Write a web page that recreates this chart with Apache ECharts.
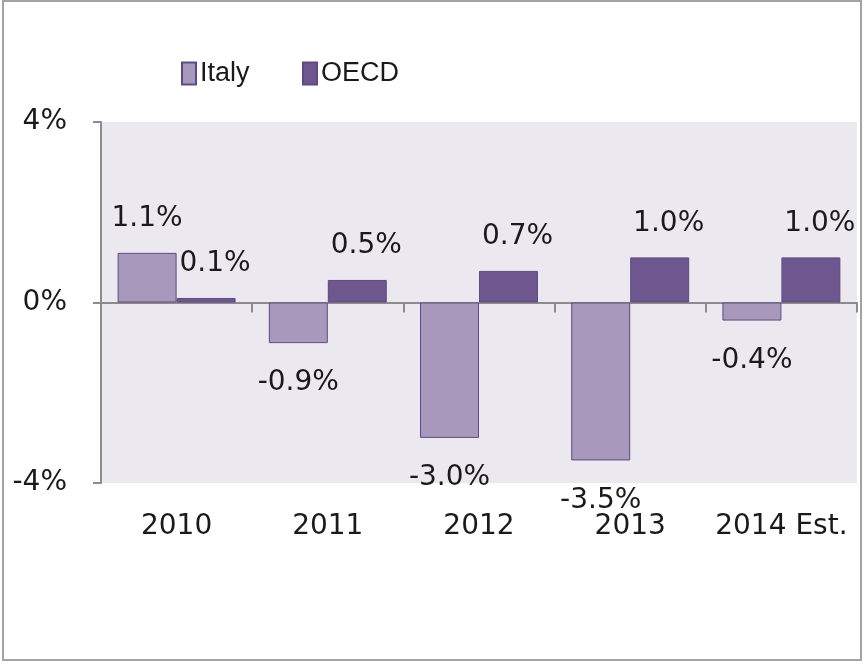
<!DOCTYPE html>
<html>
<head>
<meta charset="utf-8">
<script src="https://cdn.jsdelivr.net/npm/echarts@6/dist/echarts.min.js"></script>
<style>
  html, body { margin: 0; padding: 0; background: #fff; }
  #main { width: 864px; height: 664px; }
</style>
</head>
<body>
<div id="main"></div>
<script>
// data
var years = ['2010', '2011', '2012', '2013', '2014 Est.'];
var italy = [1.1, -0.9, -3.0, -3.5, -0.4];
var oecd = [0.1, 0.5, 0.7, 1.0, 1.0];
var yTicks = [-4, 0, 4];

var myChart = echarts.init(document.getElementById('main'));

var fontName = 'DejaVu Sans';
var legendFont = 'Liberation Sans';
var axisGray = '#8c8c8c';

function barData(values) {
  return values.map(function (v) {
    return {
      value: v,
      label: v < 0 ? { position: 'bottom', distance: 26 } : { position: 'top', distance: 20 }
    };
  });
}

function makeSeries(name, values, color, labelShift) {
  return {
    name: name,
    type: 'bar',
    xAxisIndex: 0,
    barGap: 0,
    barCategoryGap: '22%',
    itemStyle: { color: color, borderColor: '#5e4a80', borderWidth: 1 },
    label: {
      show: true,
      color: '#1a1a1a',
      fontFamily: fontName,
      fontSize: 28,
      offset: [labelShift, 0],
      formatter: function (p) { return p.value.toFixed(1) + '%'; }
    },
    data: barData(values)
  };
}

function makeLegend(name, left) {
  return {
    top: 55,
    left: left,
    itemWidth: 14,
    itemHeight: 22,
    itemGap: 0,
    icon: 'rect',
    textStyle: { fontFamily: legendFont, fontSize: 27, color: '#1a1a1a', padding: [0, 0, 0, -1] },
    data: [name]
  };
}

var option = {
  backgroundColor: '#fff',
  animation: false,
  graphic: [{
    type: 'rect',
    shape: { x: 3, y: 1, width: 858, height: 659 },
    style: { fill: 'none', stroke: '#a3a3a3', lineWidth: 2 },
    z: 100
  }],
  legend: [makeLegend('Italy', 176), makeLegend('OECD', 297)],
  grid: {
    left: 101, right: 7, top: 122, bottom: 181,
    show: true,
    backgroundColor: '#ebe9ef',
    borderWidth: 0
  },
  xAxis: [
    {
      type: 'category',
      data: years,
      axisLine: { onZero: true, lineStyle: { color: axisGray, width: 2 } },
      axisTick: { show: true, length: 10, lineStyle: { color: axisGray, width: 2 } },
      axisLabel: { show: false },
      splitLine: { show: false }
    },
    {
      type: 'category',
      data: years,
      position: 'bottom',
      axisLine: { show: false, onZero: false },
      axisTick: { show: false },
      axisLabel: { interval: 0, fontFamily: fontName, fontSize: 28, color: '#1a1a1a', margin: 30 },
      splitLine: { show: false }
    }
  ],
  yAxis: {
    type: 'value',
    min: yTicks[0],
    max: yTicks[yTicks.length - 1],
    interval: 4,
    axisLine: { show: true, lineStyle: { color: axisGray, width: 2 } },
    axisTick: { show: true, length: 8, lineStyle: { color: axisGray, width: 2 } },
    axisLabel: {
      fontFamily: fontName, fontSize: 28, color: '#1a1a1a', margin: 34,
      formatter: '{value}%'
    },
    splitLine: { show: false }
  },
  series: [
    makeSeries('Italy', italy, '#a898bc', 0),
    makeSeries('OECD', oecd, '#6e568f', 9)
  ]
};

myChart.setOption(option);
</script>
</body>
</html>
